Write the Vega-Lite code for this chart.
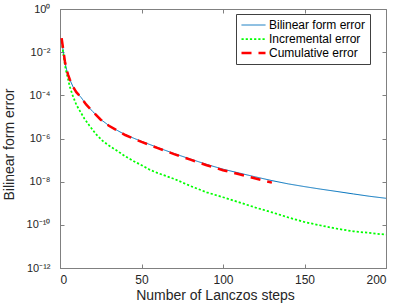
{
  "$schema": "https://vega.github.io/schema/vega-lite/v6.json",
  "width": 326,
  "height": 259,
  "autosize": {"type": "none"},
  "padding": {"left": 60, "top": 9, "right": 13, "bottom": 37},
  "config": {
    "font": "Liberation Sans",
    "view": {"stroke": "#808080", "strokeWidth": 1},
    "axis": {
      "domainColor": "#808080",
      "tickColor": "#808080",
      "labelColor": "#262626",
      "titleColor": "#262626",
      "labelFontSize": 12,
      "titleFontSize": 14,
      "titleFontWeight": "normal",
      "grid": false
    },
    "legend": {
      "orient": "none",
      "legendX": 176,
      "legendY": 5,
      "fillColor": "white",
      "strokeColor": "#404040",
      "padding": 4,
      "symbolType": "stroke",
      "symbolSize": 576,
      "labelFontSize": 12,
      "labelColor": "#000000",
      "labelOffset": 2,
      "clipHeight": 14,
      "rowPadding": 0,
      "title": null
    }
  },
  "data": {
    "values": [
      {"s": "Bilinear form error", "x": 1, "v": 3.5e-2},
      {"s": "Bilinear form error", "x": 2, "v": 1.1e-2},
      {"s": "Bilinear form error", "x": 3, "v": 3.5e-3},
      {"s": "Bilinear form error", "x": 4, "v": 1.6e-3},
      {"s": "Bilinear form error", "x": 5, "v": 8.9e-4},
      {"s": "Bilinear form error", "x": 6, "v": 5.4e-4},
      {"s": "Bilinear form error", "x": 8, "v": 2.5e-4},
      {"s": "Bilinear form error", "x": 10, "v": 1.4e-4},
      {"s": "Bilinear form error", "x": 13, "v": 7.9e-5},
      {"s": "Bilinear form error", "x": 16, "v": 3.8e-5},
      {"s": "Bilinear form error", "x": 20, "v": 1.8e-5},
      {"s": "Bilinear form error", "x": 25, "v": 7.6e-6},
      {"s": "Bilinear form error", "x": 30, "v": 4.0e-6},
      {"s": "Bilinear form error", "x": 35, "v": 2.4e-6},
      {"s": "Bilinear form error", "x": 40, "v": 1.5e-6},
      {"s": "Bilinear form error", "x": 45, "v": 1.05e-6},
      {"s": "Bilinear form error", "x": 50, "v": 7.4e-7},
      {"s": "Bilinear form error", "x": 60, "v": 3.8e-7},
      {"s": "Bilinear form error", "x": 70, "v": 2.0e-7},
      {"s": "Bilinear form error", "x": 80, "v": 1.12e-7},
      {"s": "Bilinear form error", "x": 90, "v": 6.3e-8},
      {"s": "Bilinear form error", "x": 100, "v": 3.8e-8},
      {"s": "Bilinear form error", "x": 110, "v": 2.5e-8},
      {"s": "Bilinear form error", "x": 120, "v": 1.66e-8},
      {"s": "Bilinear form error", "x": 130, "v": 1.12e-8},
      {"s": "Bilinear form error", "x": 140, "v": 7.9e-9},
      {"s": "Bilinear form error", "x": 150, "v": 5.9e-9},
      {"s": "Bilinear form error", "x": 160, "v": 4.5e-9},
      {"s": "Bilinear form error", "x": 170, "v": 3.5e-9},
      {"s": "Bilinear form error", "x": 180, "v": 2.7e-9},
      {"s": "Bilinear form error", "x": 190, "v": 2.1e-9},
      {"s": "Bilinear form error", "x": 200, "v": 1.7e-9},
      {"s": "Incremental error", "x": 1, "v": 3.2e-2},
      {"s": "Incremental error", "x": 2, "v": 8.9e-3},
      {"s": "Incremental error", "x": 3, "v": 2.5e-3},
      {"s": "Incremental error", "x": 4, "v": 1.1e-3},
      {"s": "Incremental error", "x": 5, "v": 5.4e-4},
      {"s": "Incremental error", "x": 6, "v": 2.5e-4},
      {"s": "Incremental error", "x": 8, "v": 8.9e-5},
      {"s": "Incremental error", "x": 10, "v": 3.7e-5},
      {"s": "Incremental error", "x": 12, "v": 2.0e-5},
      {"s": "Incremental error", "x": 15, "v": 8.3e-6},
      {"s": "Incremental error", "x": 18, "v": 4.0e-6},
      {"s": "Incremental error", "x": 22, "v": 1.6e-6},
      {"s": "Incremental error", "x": 26, "v": 7.9e-7},
      {"s": "Incremental error", "x": 30, "v": 4.7e-7},
      {"s": "Incremental error", "x": 35, "v": 2.7e-7},
      {"s": "Incremental error", "x": 40, "v": 1.5e-7},
      {"s": "Incremental error", "x": 45, "v": 9.1e-8},
      {"s": "Incremental error", "x": 50, "v": 5.8e-8},
      {"s": "Incremental error", "x": 55, "v": 3.6e-8},
      {"s": "Incremental error", "x": 60, "v": 2.5e-8},
      {"s": "Incremental error", "x": 70, "v": 1.35e-8},
      {"s": "Incremental error", "x": 80, "v": 6.3e-9},
      {"s": "Incremental error", "x": 90, "v": 3.2e-9},
      {"s": "Incremental error", "x": 100, "v": 1.9e-9},
      {"s": "Incremental error", "x": 110, "v": 1.1e-9},
      {"s": "Incremental error", "x": 120, "v": 6.3e-10},
      {"s": "Incremental error", "x": 130, "v": 3.8e-10},
      {"s": "Incremental error", "x": 140, "v": 2.2e-10},
      {"s": "Incremental error", "x": 150, "v": 1.35e-10},
      {"s": "Incremental error", "x": 160, "v": 9.3e-11},
      {"s": "Incremental error", "x": 170, "v": 6.6e-11},
      {"s": "Incremental error", "x": 180, "v": 5.0e-11},
      {"s": "Incremental error", "x": 190, "v": 4.2e-11},
      {"s": "Incremental error", "x": 200, "v": 3.5e-11},
      {"s": "Cumulative error", "x": 1, "v": 4.5e-2},
      {"s": "Cumulative error", "x": 2, "v": 1.3e-2},
      {"s": "Cumulative error", "x": 3, "v": 3.8e-3},
      {"s": "Cumulative error", "x": 4, "v": 1.6e-3},
      {"s": "Cumulative error", "x": 5, "v": 8.9e-4},
      {"s": "Cumulative error", "x": 6, "v": 5.4e-4},
      {"s": "Cumulative error", "x": 8, "v": 2.5e-4},
      {"s": "Cumulative error", "x": 10, "v": 1.4e-4},
      {"s": "Cumulative error", "x": 13, "v": 7.9e-5},
      {"s": "Cumulative error", "x": 16, "v": 3.8e-5},
      {"s": "Cumulative error", "x": 20, "v": 1.8e-5},
      {"s": "Cumulative error", "x": 25, "v": 7.4e-6},
      {"s": "Cumulative error", "x": 30, "v": 3.9e-6},
      {"s": "Cumulative error", "x": 35, "v": 2.35e-6},
      {"s": "Cumulative error", "x": 40, "v": 1.45e-6},
      {"s": "Cumulative error", "x": 45, "v": 1.0e-6},
      {"s": "Cumulative error", "x": 50, "v": 7.0e-7},
      {"s": "Cumulative error", "x": 60, "v": 3.6e-7},
      {"s": "Cumulative error", "x": 70, "v": 1.9e-7},
      {"s": "Cumulative error", "x": 80, "v": 1.05e-7},
      {"s": "Cumulative error", "x": 90, "v": 5.8e-8},
      {"s": "Cumulative error", "x": 100, "v": 3.4e-8},
      {"s": "Cumulative error", "x": 110, "v": 2.2e-8},
      {"s": "Cumulative error", "x": 120, "v": 1.4e-8},
      {"s": "Cumulative error", "x": 130, "v": 9.0e-9}
    ]
  },
  "layer": [
    {
      "mark": {"type": "line", "clip": true},
      "encoding": {
        "x": {
          "field": "x", "type": "quantitative",
          "scale": {"domain": [0, 200], "nice": false},
          "axis": {"orient": "bottom", "values": [0, 50, 100, 150, 200], "title": "Number of Lanczos steps", "tickSize": -4, "labelPadding": 10, "titleX": 155, "titleY": 31, "titleBaseline": "alphabetic"}
        },
        "y": {
          "field": "v", "type": "quantitative",
          "scale": {"type": "log", "domain": [1e-12, 1], "nice": false},
          "axis": {
            "orient": "left",
            "values": [1e-12, 1e-10, 1e-8, 1e-6, 1e-4, 1e-2, 1],
            "tickSize": -4,
            "labelPadding": 14,
            "labelFontSize": 11,
            "title": "Bilinear form error",
            "titleX": -44,
            "titleY": 135,
            "titleBaseline": "bottom",
            "labelExpr": "datum.value > 0.5 ? '10⁰' : datum.value > 1e-3 ? '10⁻²' : datum.value > 1e-5 ? '10⁻⁴' : datum.value > 1e-7 ? '10⁻⁶' : datum.value > 1e-9 ? '10⁻⁸' : datum.value > 1e-11 ? '10⁻¹⁰' : '10⁻¹²'"
          }
        },
        "color": {
          "field": "s", "type": "nominal",
          "scale": {"domain": ["Bilinear form error", "Incremental error", "Cumulative error"], "range": ["#0072BD", "#00FF00", "#FF0000"]},
          "legend": {"title": null}
        },
        "strokeDash": {
          "field": "s", "type": "nominal",
          "scale": {"domain": ["Bilinear form error", "Incremental error", "Cumulative error"], "range": [[1, 0], [2.2, 2], [10, 7]]},
          "legend": {"title": null}
        },
        "strokeWidth": {
          "field": "s", "type": "nominal",
          "scale": {"domain": ["Bilinear form error", "Incremental error", "Cumulative error"], "range": [1, 2.5, 2.6]},
          "legend": {"title": null}
        },
        "order": {"field": "x", "type": "quantitative"}
      }
    },
    {
      "mark": {"type": "line", "strokeOpacity": 0},
      "encoding": {
        "x": {
          "field": "x", "type": "quantitative",
          "scale": {"domain": [0, 200], "nice": false},
          "axis": {"orient": "top", "values": [0, 50, 100, 150, 200], "labels": false, "title": null, "tickSize": -4, "domain": false}
        },
        "y": {
          "field": "v", "type": "quantitative",
          "scale": {"type": "log", "domain": [1e-12, 1], "nice": false},
          "axis": {"orient": "right", "values": [1e-12, 1e-10, 1e-8, 1e-6, 1e-4, 1e-2, 1], "labels": false, "title": null, "tickSize": -4, "domain": false}
        }
      }
    }
  ],
  "resolve": {"axis": {"x": "independent", "y": "independent"}}
}
